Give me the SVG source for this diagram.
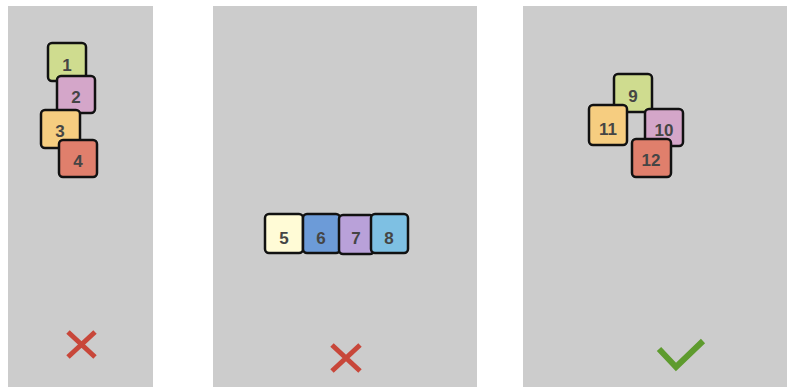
<svg xmlns="http://www.w3.org/2000/svg" width="787" height="387" viewBox="0 0 787 387">
<style>
.panel{fill:#cccccc}
.box rect{stroke:#111;stroke-width:2.5}
.box text{font-family:"Liberation Sans",Arial,sans-serif;font-size:17px;font-weight:bold;fill:#454545;text-anchor:middle;dominant-baseline:central}
.g{fill:#cfdc8f}.p{fill:#d4a6c9}.o{fill:#f6cd80}.r{fill:#e07f6c}
.y{fill:#fffbd6}.b{fill:#6c9bd8}.v{fill:#b9a1d9}.c{fill:#7ec0e3}
.x{stroke:#c8473a;stroke-width:5;fill:none}
.ok{stroke:#5e9b2e;stroke-width:6;fill:none}
</style>
<rect width="787" height="387" fill="#ffffff"/>
<rect class="panel" x="8" y="6" width="145" height="381"/>
<rect class="panel" x="213" y="6" width="264" height="381"/>
<rect class="panel" x="523" y="6" width="264" height="381"/>

<g id="n1" class="box"><rect class="g" x="48" y="43" width="38" height="38" rx="4"/><text x="67" y="65">1</text></g>
<g id="n2" class="box"><rect class="p" x="57" y="76" width="38" height="37" rx="4"/><text x="76" y="97">2</text></g>
<g id="n3" class="box"><rect class="o" x="41" y="110" width="39" height="38" rx="4"/><text x="60" y="131">3</text></g>
<g id="n4" class="box"><rect class="r" x="59" y="140" width="38" height="37" rx="4"/><text x="78" y="161">4</text></g>

<g id="n5" class="box"><rect class="y" x="265" y="214" width="38" height="39" rx="4"/><text x="284" y="238">5</text></g>
<g id="n6" class="box"><rect class="b" x="303" y="214" width="37" height="39" rx="4"/><text x="321" y="238">6</text></g>
<g id="n7" class="box"><rect class="v" x="339" y="215" width="35" height="39" rx="4"/><text x="356" y="238">7</text></g>
<g id="n8" class="box"><rect class="c" x="371" y="214" width="37" height="39" rx="4"/><text x="389" y="238">8</text></g>

<g id="n9" class="box"><rect class="g" x="614" y="74" width="38" height="38" rx="4"/><text x="633" y="96">9</text></g>
<g id="n11" class="box"><rect class="o" x="589" y="105" width="38" height="40" rx="4"/><text x="608" y="129">11</text></g>
<g id="n10" class="box"><rect class="p" x="645" y="109" width="38" height="37" rx="4"/><text x="664" y="130">10</text></g>
<g id="n12" class="box"><rect class="r" x="632" y="139" width="39" height="38" rx="4"/><text x="651" y="160">12</text></g>

<g id="marks">
<path class="x" d="M68 332 L95 357 M95 332 L68 357"/>
<path class="x" d="M332 345 L360 371 M360 345 L332 371"/>
<path class="ok" d="M659 349 L676 367 L703 341"/>
</g>
</svg>
